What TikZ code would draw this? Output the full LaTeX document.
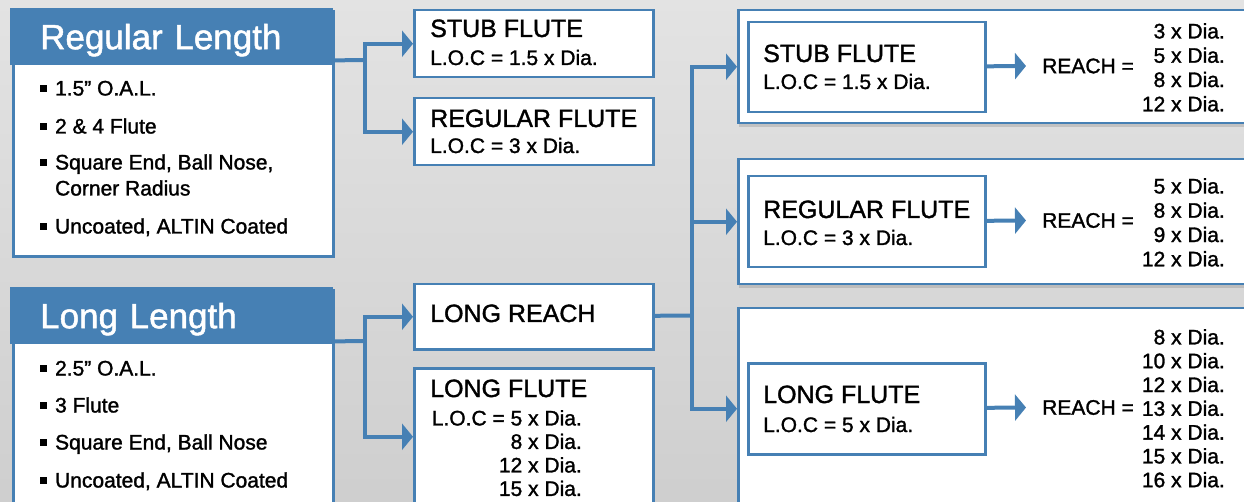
\documentclass[tikz,border=0pt]{standalone}
\usepackage{fontspec}
\setmainfont{Liberation Sans}[FakeBold=1.4]
\usepackage{tikz}
\usetikzlibrary{positioning,arrows.meta,shadows}
\definecolor{flblue}{RGB}{70,128,180}
\newcommand{\sqbul}{\rule[0.19em]{0.33em}{0.33em}\hspace{0.38em}}
\tikzset{%
  line/.style = {draw=flblue,line width=4pt},
  linearrow/.style = {line,-{Triangle[length=11pt,width=26pt]}},
  hd/.style = {rectangle,fill=flblue,text=white,minimum width=323pt,
        minimum height=57pt,inner xsep=30pt,text width=263pt,align=left,
        text height=25pt,text depth=0pt,anchor=north west,
        font=\fontsize{35}{40}\selectfont},
  bd/.style = {rectangle,draw=flblue,line width=3pt,fill=white,
        minimum width=320pt,anchor=north west},
  bx/.style = {rectangle,draw=flblue,line width=2.5pt,fill=white,
        anchor=north west},
  shbx/.style = {bx,drop shadow={opacity=0.3,shadow xshift=1pt,
        shadow yshift=-4pt}},
  tt/.style = {inner sep=0pt,anchor=base west,font=\fontsize{25}{28}\selectfont},
  tx/.style = {inner sep=0pt,anchor=base west,align=left,
        font=\fontsize{21}{26}\selectfont},
  vals/.style = {inner sep=0pt,anchor=north east,align=right},
  reach/.style = {inner sep=0pt,anchor=west,font=\fontsize{21}{24}\selectfont}
}
\begin{document}
\begin{tikzpicture}[x=1pt,y=-1pt]
\useasboundingbox (0,0) rectangle (1244,502);
\clip (0,0) rectangle (1244,502);
\shade[top color=black!11,middle color=black!8,bottom color=black!19]
    (0,0) rectangle (1244,502);

% left: lengths
\node[bd,minimum height=245pt] (regbody) at (11.5,10) {};
\node[hd] (reghead) at (10,8) {Regular Length};
\node[tx] (reg1) at (40,95.5) {\sqbul 1.5” O.A.L.};
\node[tx] (reg2) at (40,133.5) {\sqbul 2 \& 4 Flute};
\node[tx] (reg3) at (40,195.5) {\sqbul Square End, Ball Nose,\\\phantom{\sqbul}Corner Radius};
\node[tx] (reg4) at (40,233.5) {\sqbul Uncoated, ALTIN Coated};

\node[bd,minimum height=240pt] (lenbody) at (11.5,289) {};
\node[hd] (lenhead) at (10,287) {Long Length};
\node[tx] (len1) at (40,375.5) {\sqbul 2.5” O.A.L.};
\node[tx] (len2) at (40,412.5) {\sqbul 3 Flute};
\node[tx] (len3) at (40,449.5) {\sqbul Square End, Ball Nose};
\node[tx] (len4) at (40,487.5) {\sqbul Uncoated, ALTIN Coated};

% middle: flutes
\node[bx,minimum width=239pt,minimum height=67pt] (stub) at (413,9) {};
\node[tt] (stubt) at (430,37) {STUB FLUTE};
\node[tx] (stubl) at (430,65) {L.O.C = 1.5 x Dia.};
\node[bx,minimum width=239pt,minimum height=67pt] (regf) at (413,97) {};
\node[tt] (regft) at (430,127) {REGULAR FLUTE};
\node[tx] (regfl) at (430,153) {L.O.C = 3 x Dia.};
\node[bx,minimum width=239pt,minimum height=65pt] (lreach) at (413,283) {};
\node[tt] (lreacht) at (430,322) {LONG REACH};
\node[bx,minimum width=239pt,minimum height=137pt] (lflute) at (413,367) {};
\node[tt] (lflutet) at (430,397) {LONG FLUTE};
\node[vals,font=\fontsize{21}{23.5}\selectfont] (lflutel) at (582,410)
    {L.O.C = 5 x Dia.\\8 x Dia.\\12 x Dia.\\15 x Dia.};

% right: long reach
\node[shbx,minimum width=520pt,minimum height=113pt] (rout1) at (737,9) {};
\node[bx,minimum width=237pt,minimum height=90pt] (rin1) at (747,21) {};
\node[tt] (rin1t) at (763,62) {STUB FLUTE};
\node[tx] (rin1l) at (763,89) {L.O.C = 1.5 x Dia.};
\node[reach] (reach1) at (1042,66) {REACH =};
\node[vals,font=\fontsize{21}{24.3}\selectfont] (vals1) at (1225,23)
    {3 x Dia.\\5 x Dia.\\8 x Dia.\\12 x Dia.};

\node[shbx,minimum width=520pt,minimum height=125pt] (rout2) at (737,158) {};
\node[bx,minimum width=237pt,minimum height=91pt] (rin2) at (747,175) {};
\node[tt] (rin2t) at (763,218) {REGULAR FLUTE};
\node[tx] (rin2l) at (763,245) {L.O.C = 3 x Dia.};
\node[reach] (reach2) at (1042,220.5) {REACH =};
\node[vals,font=\fontsize{21}{24.3}\selectfont] (vals2) at (1225,178)
    {5 x Dia.\\8 x Dia.\\9 x Dia.\\12 x Dia.};

\node[shbx,minimum width=520pt,minimum height=201pt] (rout3) at (737,307) {};
\node[bx,minimum width=237pt,minimum height=91pt] (rin3) at (747,362) {};
\node[tt] (rin3t) at (763,403) {LONG FLUTE};
\node[tx] (rin3l) at (763,432) {L.O.C = 5 x Dia.};
\node[reach] (reach3) at (1042,407.5) {REACH =};
\node[vals,font=\fontsize{21}{23.8}\selectfont] (vals3) at (1225,329)
    {8 x Dia.\\10 x Dia.\\12 x Dia.\\13 x Dia.\\14 x Dia.\\15 x Dia.\\16 x Dia.};

% connectors
\coordinate (regfork) at (365,60);
\coordinate (lenfork) at (365,341);
\coordinate (rfork) at (692,315.5);
\draw[line] ([yshift=5pt]reghead.south east) -- (regfork);
\draw[linearrow] (regfork) |- (stub);
\draw[linearrow] (regfork) |- (regf);
\draw[line] ([yshift=3pt]lenhead.south east) -- (lenfork);
\draw[linearrow] (lenfork) |- (lreach);
\draw[linearrow] (lenfork) |- (lflute);
\draw[line] (lreach) -- (rfork);
\draw[linearrow] (rfork) |- (rout1);
\draw[linearrow] (rfork) |- (rout2);
\draw[linearrow] (rfork) |- (rout3);
\draw[linearrow] (rin1) -- ([xshift=-16pt]reach1.west);
\draw[linearrow] (rin2) -- ([xshift=-16pt]reach2.west);
\draw[linearrow] (rin3) -- ([xshift=-16pt]reach3.west);
\end{tikzpicture}
\end{document}
